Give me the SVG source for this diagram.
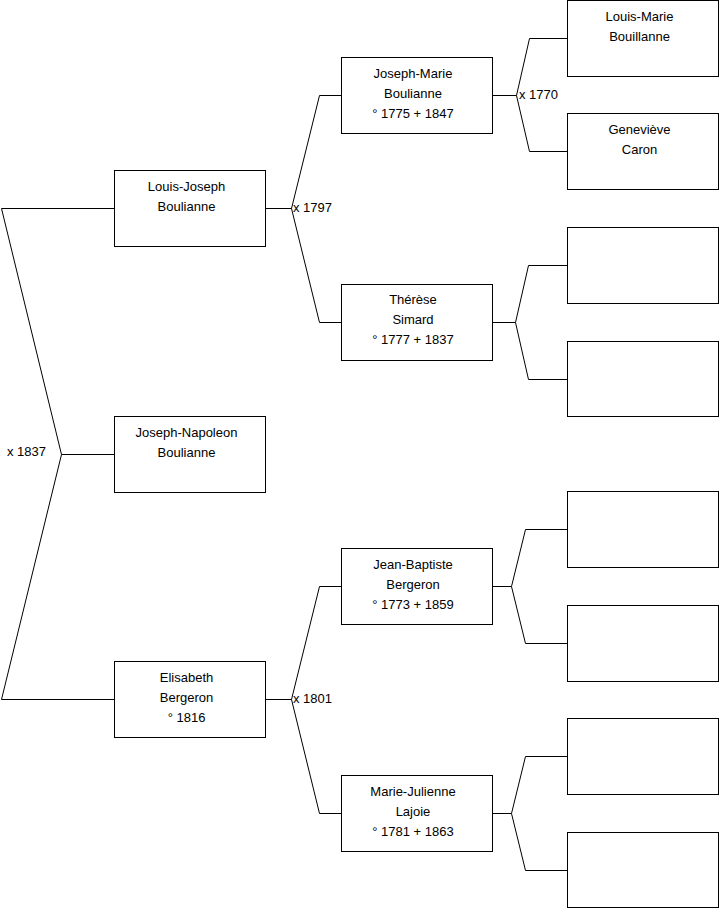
<svg xmlns="http://www.w3.org/2000/svg" width="719" height="908" viewBox="0 0 719 908">
<style>
.box{fill:#fff;stroke:#000;stroke-width:1}
.ln{fill:none;stroke:#000;stroke-width:1}
text{font-family:"Liberation Sans",Arial,sans-serif;font-size:13px;fill:#000}
.c{text-anchor:middle}
</style>
<rect width="719" height="908" fill="#fff"/>
<g id="connectors">
<path class="ln" d="M114,208.5H1.5L61.5,454.5L1.5,699.5H114M61.5,454.5H114"/>
<path class="ln" d="M265,208.5H291.5L319.5,95.5H341M291.5,208.5L319.5,322.5H341"/>
<path class="ln" d="M265,699.5H291.5L319.5,586.5H341M291.5,699.5L319.5,813.5H341"/>
<path class="ln" d="M492,95.5H516.5L529.5,38.5H567M516.5,95.5L529.5,151.5H567"/>
<path class="ln" d="M492,322.5H515.5L528.5,265.5H567M515.5,322.5L528.5,379.5H567"/>
<path class="ln" d="M492,586.5H511.5L525.5,529.5H567M511.5,586.5L525.5,643.5H567"/>
<path class="ln" d="M492,813.5H511.5L525.5,756.5H567M511.5,813.5L525.5,870.5H567"/>
<text x="7" y="456">x 1837</text>
<text x="293" y="212">x 1797</text>
<text x="293" y="703">x 1801</text>
<text x="519" y="99">x 1770</text>
</g>
<g id="n-louis-joseph">
<rect class="box" x="114.5" y="170.5" width="151" height="76"/>
<text class="c" x="186.5" y="191">Louis-Joseph</text>
<text class="c" x="186.5" y="211">Boulianne</text>
</g>
<g id="n-joseph-napoleon">
<rect class="box" x="114.5" y="416.5" width="151" height="76"/>
<text class="c" x="186.5" y="437">Joseph-Napoleon</text>
<text class="c" x="186.5" y="457">Boulianne</text>
</g>
<g id="n-elisabeth">
<rect class="box" x="114.5" y="661.5" width="151" height="76"/>
<text class="c" x="186.5" y="682">Elisabeth</text>
<text class="c" x="186.5" y="702">Bergeron</text>
<text class="c" x="186.5" y="722">° 1816</text>
</g>
<g id="n-joseph-marie">
<rect class="box" x="341.5" y="57.5" width="151" height="76"/>
<text class="c" x="413" y="78">Joseph-Marie</text>
<text class="c" x="413" y="98">Boulianne</text>
<text class="c" x="413" y="118">° 1775 + 1847</text>
</g>
<g id="n-therese">
<rect class="box" x="341.5" y="284.5" width="151" height="76"/>
<text class="c" x="413" y="304">Thérèse</text>
<text class="c" x="413" y="324">Simard</text>
<text class="c" x="413" y="344">° 1777 + 1837</text>
</g>
<g id="n-jean-baptiste">
<rect class="box" x="341.5" y="548.5" width="151" height="76"/>
<text class="c" x="413" y="569">Jean-Baptiste</text>
<text class="c" x="413" y="589">Bergeron</text>
<text class="c" x="413" y="609">° 1773 + 1859</text>
</g>
<g id="n-marie-julienne">
<rect class="box" x="341.5" y="775.5" width="151" height="76"/>
<text class="c" x="413" y="796">Marie-Julienne</text>
<text class="c" x="413" y="816">Lajoie</text>
<text class="c" x="413" y="836">° 1781 + 1863</text>
</g>
<g id="n-louis-marie">
<rect class="box" x="567.5" y="0.5" width="151" height="76"/>
<text class="c" x="639.5" y="21">Louis-Marie</text>
<text class="c" x="639.5" y="41">Bouillanne</text>
</g>
<g id="n-genevieve">
<rect class="box" x="567.5" y="113.5" width="151" height="76"/>
<text class="c" x="639.5" y="134">Geneviève</text>
<text class="c" x="639.5" y="154">Caron</text>
</g>
<g id="n-empty1"><rect class="box" x="567.5" y="227.5" width="151" height="76"/></g>
<g id="n-empty2"><rect class="box" x="567.5" y="341.5" width="151" height="75"/></g>
<g id="n-empty3"><rect class="box" x="567.5" y="491.5" width="151" height="76"/></g>
<g id="n-empty4"><rect class="box" x="567.5" y="605.5" width="151" height="76"/></g>
<g id="n-empty5"><rect class="box" x="567.5" y="718.5" width="151" height="76"/></g>
<g id="n-empty6"><rect class="box" x="567.5" y="832.5" width="151" height="75"/></g>
</svg>
